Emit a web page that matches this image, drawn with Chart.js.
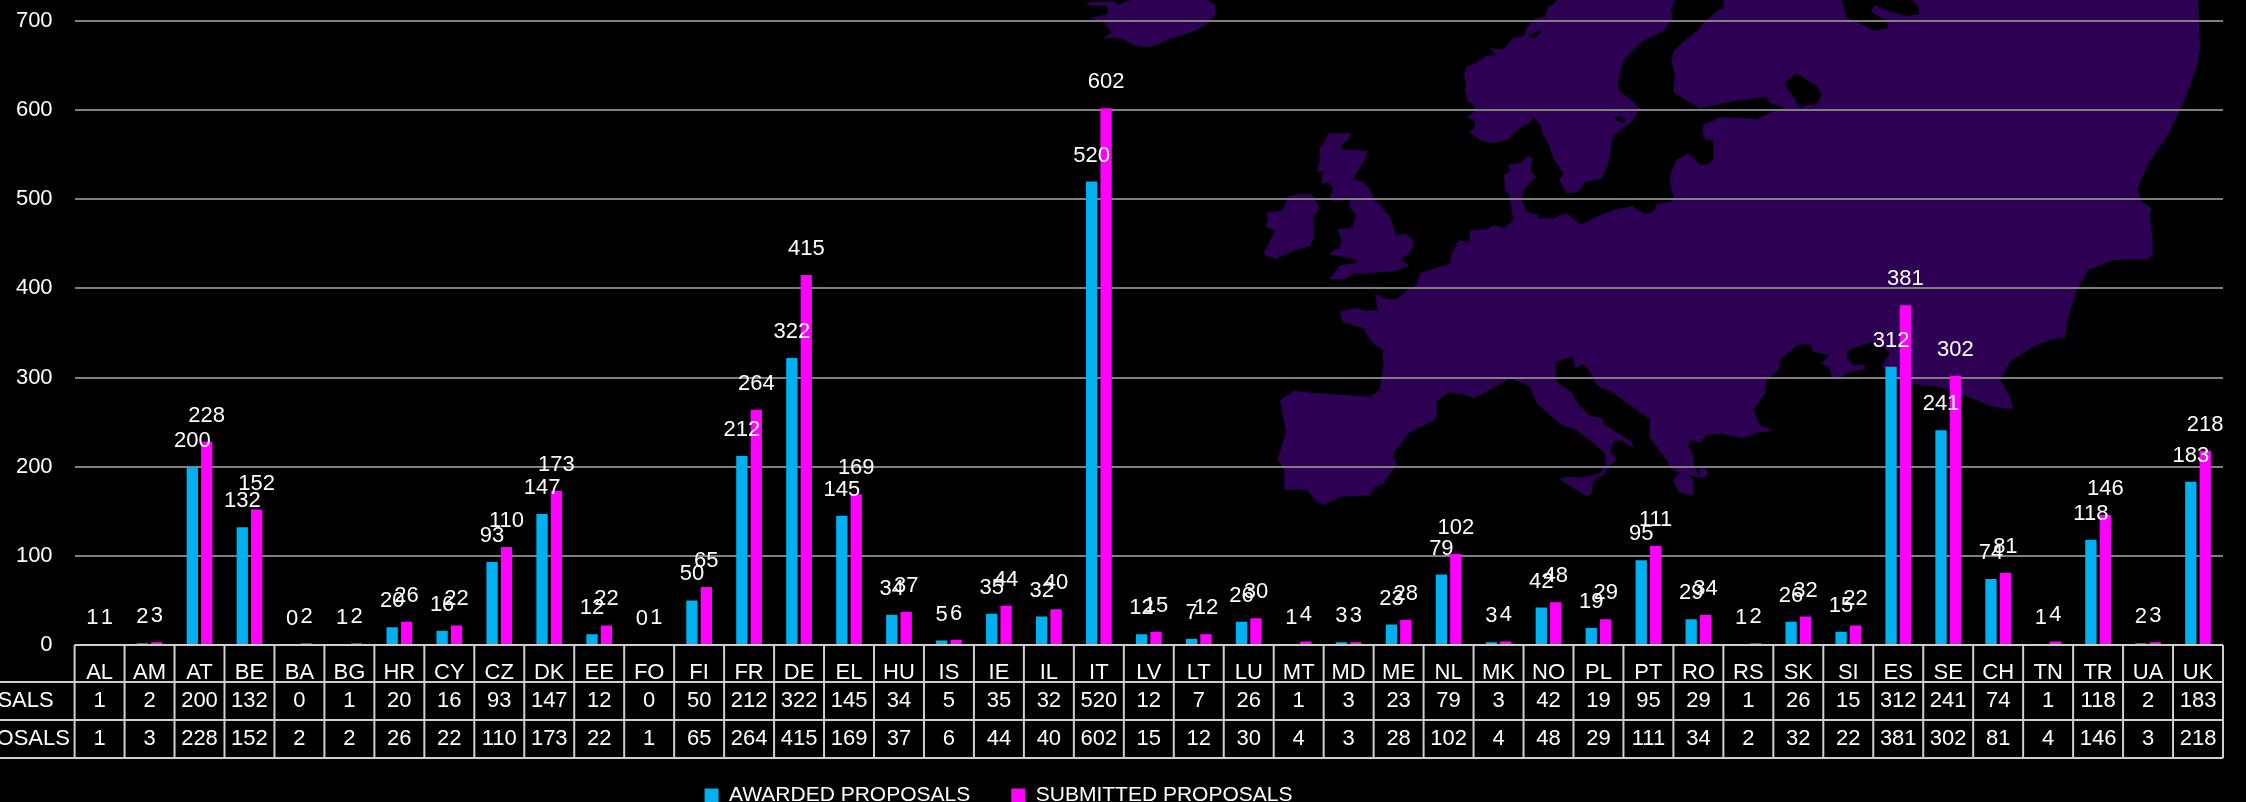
<!DOCTYPE html>
<html>
<head>
<meta charset="utf-8">
<title>Proposals by country</title>
<script src="https://cdn.jsdelivr.net/npm/chart.js@4"></script>
<style>
  html, body { margin: 0; background: #000; overflow: hidden; width: 2246px; height: 802px; }
  /* the original chart is cropped on the left, so the canvas hangs off the page */
  #chart { position: absolute; left: -226px; top: 0; }
</style>
</head>
<body>
<canvas id="chart" width="2472" height="802"></canvas>
<script>
const countries = ['AL','AM','AT','BE','BA','BG','HR','CY','CZ','DK','EE','FO','FI','FR','DE','EL','HU','IS','IE','IL','IT','LV','LT','LU','MT','MD','ME','NL','MK','NO','PL','PT','RO','RS','SK','SI','ES','SE','CH','TN','TR','UA','UK'];
const awarded = [1,2,200,132,0,1,20,16,93,147,12,0,50,212,322,145,34,5,35,32,520,12,7,26,1,3,23,79,3,42,19,95,29,1,26,15,312,241,74,1,118,2,183];
const submitted = [1,3,228,152,2,2,26,22,110,173,22,1,65,264,415,169,37,6,44,40,602,15,12,30,4,3,28,102,4,48,29,111,34,2,32,22,381,302,81,4,146,3,218];
const seriesNames = ['AWARDED PROPOSALS', 'SUBMITTED PROPOSALS'];

const FONT = '"Liberation Sans", Arial, sans-serif';
const CROP = 226;

// map outline, traced in groups: [originX, originY, x, y, x, y ...], values are 3x crop pixels
const continent = [
  [1700,0, 72,0, 72,25, 60,28, 30,50, 0,80],
  [1200,0, 1500,85, 1445,130, 1420,155, 1415,185, 1425,225, 1420,275, 1465,305, 1500,325],
  [1700,0, 100,302, 200,290, 210,310, 255,322, 205,340, 170,358, 120,353, 60,352, 10,375, 8,395, 15,418, 40,422, 40,478, 25,493, 0,495],
  [1200,0, 1465,460, 1430,480, 1412,520, 1410,550, 1420,590, 1415,605, 1370,612, 1365,630, 1340,642, 1310,630, 1298,618, 1240,630, 1180,655, 1145,675, 1100,640, 1060,655, 1015,655, 1015,645, 980,635, 965,600, 970,570, 1008,530, 990,510, 998,475, 985,467, 960,490, 922,495, 932,512, 912,525, 915,570, 928,585, 940,660, 912,685, 880,675, 860,688, 810,692, 808,728, 778,720, 755,760, 752,790],
  [1200,260, 660,40, 650,75, 625,88, 590,118, 560,118, 525,100, 533,150, 495,152, 470,143, 420,155, 428,185, 490,205, 515,245, 548,270, 550,320, 540,390, 510,410, 300,395, 285,390, 240,420, 258,520, 232,600, 253,630, 253,690, 320,688, 350,725, 372,735, 420,710, 510,705, 520,685, 550,670, 590,615, 580,580, 630,515, 705,480, 712,460, 708,425, 745,397, 790,403, 820,415, 850,400, 930,355, 988,378, 1010,430, 1085,495, 1130,510, 1180,550, 1215,580, 1218,615, 1200,640, 1150,652, 1100,650, 1078,658, 1160,708, 1175,700, 1178,670, 1190,650, 1210,648, 1225,620, 1250,598, 1230,575, 1240,545, 1265,540, 1300,565, 1295,545, 1210,492, 1208,475, 1165,465, 1130,425, 1115,398, 1070,365, 1066,305, 1120,290, 1125,325, 1150,312, 1170,335, 1190,375, 1240,400, 1350,478, 1348,530, 1400,600, 1412,625, 1440,640, 1418,660, 1437,695, 1478,707, 1482,660, 1455,640, 1500,655, 1482,615, 1480,585, 1465,560, 1470,540, 1500,548],
  [1700,260, 20,525, 65,520, 125,535, 180,515, 220,513, 180,495, 160,450, 195,400, 200,360, 235,330, 240,300, 290,255, 330,252, 340,275, 390,285, 365,310, 390,325, 395,355, 415,355, 450,335, 495,328, 495,315, 460,315, 440,295, 445,270, 520,245, 570,275, 545,320, 600,365, 640,372, 720,380, 790,405, 880,440, 940,448, 930,410, 900,360, 935,300, 1010,255, 1075,232, 1095,235, 1100,190, 1130,90, 1165,30, 1240,0],
  [1700,0, 1340,778, 1358,765, 1358,720, 1350,650, 1355,625, 1325,605, 1312,565, 1345,490, 1400,410, 1450,310, 1490,200, 1500,150, 1495,0, 635,0, 655,20, 658,42, 620,48, 570,35, 525,15, 513,35, 560,62, 565,85, 520,92, 480,70, 440,55, 425,0]
];
const lake = [[1700,0, 253,250, 288,220, 350,258, 366,285, 350,313, 320,315, 302,325]];
const scandinavia = [[1200,0, 1070,0, 1065,10, 1045,20, 1035,50, 1005,55, 980,85, 972,108, 940,115, 910,148, 870,145, 890,165, 860,168, 825,190, 800,200, 792,225, 800,260, 795,265, 802,305, 825,315, 820,335, 802,352, 825,362, 825,380, 808,395, 840,420, 880,430, 920,420, 960,382, 985,372, 1000,352, 1020,372, 1030,405, 1045,430, 1060,475, 1090,520, 1078,543, 1100,580, 1135,575, 1155,545, 1205,535, 1225,490, 1240,405, 1295,365, 1320,325, 1290,298, 1255,270, 1255,240, 1270,180, 1325,125, 1390,92, 1418,55, 1412,30, 1425,0]];
const gotland = [[1200,0, 1240,350, 1265,350, 1278,360, 1272,368, 1252,362]];
const fjord = [[1200,0, 985,108, 1018,90, 1025,95, 1005,113, 988,115]];
const britain = [[1200,0, 387,400, 455,400, 445,418, 425,435, 425,448, 505,453, 485,495, 458,538, 490,545, 515,575, 525,603, 545,620, 570,650, 588,705, 620,703, 643,725, 635,750, 602,780, 628,795, 590,812, 500,820, 460,820, 435,838, 388,838, 420,795, 468,790, 472,780, 386,762, 420,740, 425,720, 412,688, 458,683, 468,645, 448,620, 450,600, 400,603, 388,590, 400,565, 385,547, 365,550, 368,513, 350,515, 360,480, 358,445, 372,430]];
const ireland = [[1200,0, 265,588, 300,582, 335,583, 360,625, 340,648, 342,710, 330,738, 280,752, 225,778, 190,762, 225,692, 197,680, 203,660, 200,637, 245,633, 255,615]];
const iceland = [[960,0, 510,0, 740,0, 765,15, 768,40, 750,65, 710,90, 620,120, 590,135, 560,142, 520,135, 490,118, 460,112, 428,118, 455,95, 430,65, 388,55, 445,42, 440,18, 375,15, 395,5, 465,5, 475,15]];
const islet = [[1700,260, 0,625, 15,625, 25,638, 15,652, 0,652]];
const mapShapes = [continent, lake, scandinavia, gotland, fjord, britain, ireland, iceland, islet];

function traceShape(ctx, shape) {
  let first = true;
  shape.forEach((group) => {
    const ox = group[0], oy = group[1];
    for (let i = 2; i < group.length; i += 2) {
      const x = ox + group[i] / 3, y = oy + group[i + 1] / 3;
      if (first) ctx.moveTo(x, y); else ctx.lineTo(x, y);
      first = false;
    }
  });
  ctx.closePath();
}

// black page and the purple map behind the grid
const backdropPlugin = {
  id: 'backdrop',
  beforeDraw(chart) {
    const ctx = chart.ctx;
    ctx.save();
    ctx.fillStyle = '#000';
    ctx.fillRect(0, 0, chart.width, chart.height);
    ctx.translate(CROP, 0);
    ctx.fillStyle = '#2d0054';
    ctx.beginPath();
    mapShapes.forEach((s) => traceShape(ctx, s));
    ctx.fill('evenodd');
    ctx.restore();
  }
};

// value above each bar
const valueLabelPlugin = {
  id: 'valueLabels',
  afterDatasetsDraw(chart) {
    const ctx = chart.ctx;
    ctx.save();
    ctx.font = '22px ' + FONT;
    ctx.fillStyle = '#fff';
    ctx.textAlign = 'center';
    ctx.textBaseline = 'middle';
    chart.data.datasets.forEach((ds, d) => {
      chart.getDatasetMeta(d).data.forEach((bar, i) => {
        ctx.fillText(String(ds.data[i]), bar.x, bar.y - 26);
      });
    });
    ctx.restore();
  }
};

// data table under the plot; the first row of it is the x axis ticks
const dataTablePlugin = {
  id: 'dataTable',
  afterDraw(chart) {
    const ctx = chart.ctx;
    const x = chart.scales.x;
    const area = chart.chartArea;
    const colW = (area.right - area.left) / countries.length;
    const rowLines = [area.bottom, area.bottom + 37, area.bottom + 75, area.bottom + 113];
    const rowText = [area.bottom + 56, area.bottom + 94];
    const tableLeft = 10;

    ctx.save();
    ctx.strokeStyle = '#cfcfcf';
    ctx.lineWidth = 2;
    ctx.beginPath();
    rowLines.forEach((y, r) => {
      ctx.moveTo(r === 0 ? area.left : tableLeft, y);
      ctx.lineTo(area.right, y);
    });
    for (let i = 0; i <= countries.length; i++) {
      const px = area.left + i * colW;
      ctx.moveTo(px, rowLines[0]);
      ctx.lineTo(px, rowLines[3]);
    }
    ctx.stroke();

    ctx.font = '22px ' + FONT;
    ctx.fillStyle = '#fff';
    ctx.textBaseline = 'middle';
    [awarded, submitted].forEach((row, r) => {
      ctx.textAlign = 'left';
      ctx.fillText(seriesNames[r], 27, rowText[r]);
      ctx.textAlign = 'center';
      row.forEach((v, i) => ctx.fillText(String(v), x.getPixelForTick(i), rowText[r]));
    });
    ctx.restore();
  }
};

new Chart(document.getElementById('chart'), {
  type: 'bar',
  data: {
    labels: countries,
    datasets: [
      { label: seriesNames[0], data: awarded, backgroundColor: '#00b0f0' },
      { label: seriesNames[1], data: submitted, backgroundColor: '#ff00ff' }
    ]
  },
  options: {
    responsive: false,
    animation: false,
    events: [],
    layout: { padding: { top: 21, right: 23, left: 0, bottom: -14 } },
    datasets: { bar: { categoryPercentage: 0.577, barPercentage: 0.785 } },
    scales: {
      x: {
        grid: { display: false },
        border: { display: false },
        afterFit: (scale) => { scale.height = 99; },
        ticks: { color: '#fff', font: { size: 22, family: FONT }, padding: 7, autoSkip: false, maxRotation: 0 }
      },
      y: {
        min: 0,
        max: 700,
        // tick padding would otherwise push the plot down
        afterFit: (scale) => { scale.width = 300.6; scale.paddingTop = 0; scale.paddingBottom = 0; },
        grid: { color: '#7f7f7f', lineWidth: 2, drawTicks: false },
        border: { display: false },
        ticks: { stepSize: 100, color: '#fff', font: { size: 22, family: FONT }, padding: 22 }
      }
    },
    plugins: {
      tooltip: { enabled: false },
      legend: {
        position: 'bottom',
        labels: { color: '#fff', font: { size: 21, family: FONT }, boxWidth: 14, boxHeight: 14, padding: 41 }
      }
    }
  },
  plugins: [backdropPlugin, valueLabelPlugin, dataTablePlugin]
});
</script>
</body>
</html>
